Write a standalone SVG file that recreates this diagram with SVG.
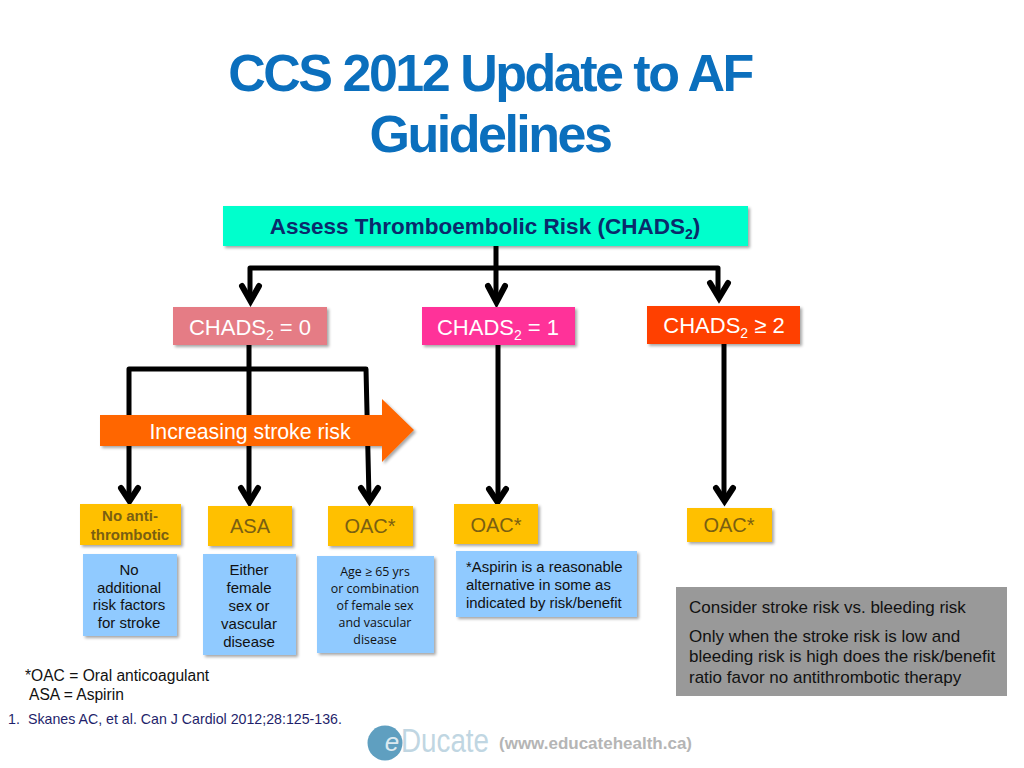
<svg xmlns="http://www.w3.org/2000/svg" width="1024" height="768" viewBox="0 0 1024 768">
<style>
text{font-family:"Liberation Sans",Arial,sans-serif}
.t{font-weight:bold;font-size:52px;fill:#0b6fbd;text-anchor:middle;letter-spacing:-2.5px}
.w{font-size:22px;fill:#fff;text-anchor:middle}
.o{font-size:20px;fill:#7a5f12;text-anchor:middle}
.a{font-size:15px;font-weight:bold;fill:#7a5f12;text-anchor:middle}
.b{font-size:15px;fill:#111;text-anchor:middle}
.c{font-family:"Open Sans","Noto Sans",sans-serif;font-size:12.4px;fill:#111;text-anchor:middle}
.s{font-size:14.9px;fill:#111}
.l{font-size:15.6px;fill:#111}
.g{font-size:17px;fill:#111}
.ln{fill:none;stroke:#000;stroke-width:5;stroke-linejoin:round}
.hd{fill:none;stroke:#000;stroke-width:6;stroke-linecap:round;stroke-linejoin:miter}
.box{filter:url(#sh)}
</style>
<defs>
<filter id="sh" x="-10%" y="-20%" width="125%" height="145%">
<feDropShadow dx="2" dy="2" stdDeviation="1.6" flood-color="#000" flood-opacity=".35"/>
</filter>
</defs>
<rect width="1024" height="768" fill="#fff"/>
<g id="title">
<text class="t" x="490" y="91">CCS 2012 Update to AF</text>
<text class="t" x="490" y="152">Guidelines</text>
</g>
<g id="connectors">
<path class="ln" d="M496 246V297"/>
<path class="ln" d="M718 296V268L250 268V297"/>
<path class="hd" d="M242 286L250.500 301L259 286M488 286L496.500 302L505 286M710 283L719 298L728 283"/>
<path class="ln" d="M249 345V500M129 500V369H366L369 498"/>
<path class="ln" d="M498 345V500M724 344V499"/>
<path class="hd" d="M121 488L129.500 501L138 488M241 488L249.500 502L258 488M361 488L369.500 501L378 488M489 489L497.500 502L506 489M716 488L724.500 501L733 488"/>
</g>
<g id="assess">
<rect class="box" x="223" y="206" width="525" height="40" fill="#00ffcc"/>
<text x="485" y="234" font-size="22.500" font-weight="bold" fill="#0b2a6b" text-anchor="middle" style="font-size:22.5px">Assess Thromboembolic Risk (CHADS<tspan dy="5" style="font-size:14px">2</tspan><tspan dy="-5">)</tspan></text>
</g>
<g id="chads0">
<rect class="box" x="173" y="307" width="154" height="38" fill="#e57c85"/>
<text class="w" x="250" y="335">CHADS<tspan dy="5" style="font-size:14px">2</tspan><tspan dy="-5"> = 0</tspan></text>
</g>
<g id="chads1">
<rect class="box" x="422" y="307" width="153" height="38" fill="#ff3399"/>
<text class="w" x="498" y="335">CHADS<tspan dy="5" style="font-size:14px">2</tspan><tspan dy="-5"> = 1</tspan></text>
</g>
<g id="chads2">
<rect class="box" x="647" y="306" width="153" height="38" fill="#ff3f00"/>
<text class="w" x="724" y="333">CHADS<tspan dy="5" style="font-size:14px">2</tspan><tspan dy="-5"> ≥ 2</tspan></text>
</g>
<g id="risk-arrow">
<path class="box" d="M100 415H382V399L414 430L382 462V446H100Z" fill="#ff6600"/>
<text class="w" x="250" y="439" style="font-size:21.3px">Increasing stroke risk</text>
</g>
<g id="no-anti">
<rect class="box" x="80" y="504" width="101" height="41" fill="#ffc000"/>
<text class="a" x="130" y="521">No anti-</text>
<text class="a" x="130" y="540">thrombotic</text>
</g>
<g id="asa">
<rect class="box" x="208" y="506" width="84" height="40" fill="#ffc000"/>
<text class="o" x="250" y="533">ASA</text>
</g>
<g id="oac1">
<rect class="box" x="328" y="506" width="85" height="40" fill="#ffc000"/>
<text class="o" x="370" y="533">OAC*</text>
</g>
<g id="oac2">
<rect class="box" x="454" y="504" width="84" height="40" fill="#ffc000"/>
<text class="o" x="496" y="532">OAC*</text>
</g>
<g id="oac3">
<rect class="box" x="687" y="508" width="85" height="34" fill="#ffc000"/>
<text class="o" x="729" y="532">OAC*</text>
</g>
<g id="note-none">
<rect class="box" x="83" y="554" width="94" height="82" fill="#90caff"/>
<text class="b" x="129" y="575">No</text>
<text class="b" x="129" y="593">additional</text>
<text class="b" x="129" y="610">risk factors</text>
<text class="b" x="129" y="628">for stroke</text>
</g>
<g id="note-asa">
<rect class="box" x="203" y="554" width="93" height="101" fill="#90caff"/>
<text class="b" x="249" y="575">Either</text>
<text class="b" x="249" y="593">female</text>
<text class="b" x="249" y="611">sex or</text>
<text class="b" x="249" y="629">vascular</text>
<text class="b" x="249" y="647">disease</text>
</g>
<g id="note-oac1">
<rect class="box" x="317" y="556" width="117" height="97" fill="#90caff"/>
<text class="c" x="375" y="576">Age ≥ 65 yrs</text>
<text class="c" x="375" y="593">or combination</text>
<text class="c" x="375" y="610">of female sex</text>
<text class="c" x="375" y="627">and vascular</text>
<text class="c" x="375" y="644">disease</text>
</g>
<g id="note-oac2">
<rect class="box" x="456" y="551" width="181" height="66" fill="#90caff"/>
<text class="s" x="466" y="572">*Aspirin is a reasonable</text>
<text class="s" x="466" y="590">alternative in some as</text>
<text class="s" x="466" y="608">indicated by risk/benefit</text>
</g>
<g id="consider">
<rect x="676" y="587" width="331" height="109" fill="#999"/>
<text class="g" x="689" y="613">Consider stroke risk vs. bleeding risk</text>
<text class="g" x="689" y="642">Only when the stroke risk is low and</text>
<text class="g" x="689" y="662">bleeding risk is high does the risk/benefit</text>
<text class="g" x="689" y="683">ratio favor no antithrombotic therapy</text>
</g>
<g id="legend">
<text class="l" x="25" y="681">*OAC = Oral anticoagulant</text>
<text class="l" x="29" y="700">ASA = Aspirin</text>
</g>
<g id="reference">
<text x="8" y="724" fill="#1f1f6b" style="font-size:14.2px">1.</text>
<text x="28" y="724" fill="#1f1f6b" style="font-size:14.2px">Skanes AC, et al. Can J Cardiol 2012;28:125-136.</text>
</g>
<g id="logo">
<circle cx="385" cy="743" r="17.500" fill="#5f9fc0"/>
<text x="392" y="751" font-style="italic" fill="#dbe9f0" text-anchor="middle" style="font-size:26px">e</text>
<text x="401" y="752" fill="#c0d6e2" textLength="88" lengthAdjust="spacingAndGlyphs" style="font-size:33px">Ducate</text>
<text x="499" y="749" font-weight="bold" fill="#b5b5b5" style="font-size:17px">(www.educatehealth.ca)</text>
</g>
</svg>
